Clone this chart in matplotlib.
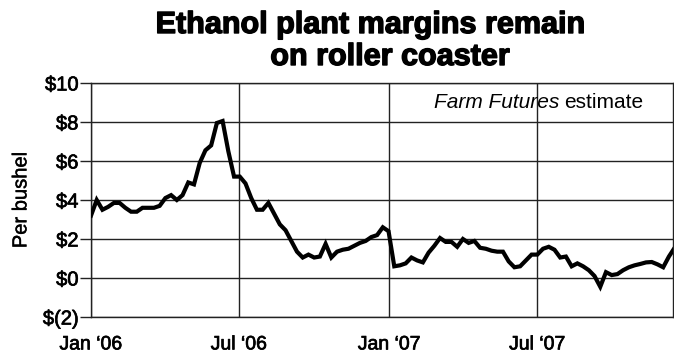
import matplotlib
matplotlib.use("Agg")
import matplotlib.pyplot as plt
import matplotlib.patheffects as pe
import pandas as pd
import numpy as np

# ---- data (weekly) ----
start_date = "2006-01-01"
margins = [
    3.2, 4.0, 3.5, 3.65, 3.85, 3.85, 3.6, 3.4, 3.4, 3.6,
    3.6, 3.6, 3.7, 4.1, 4.25, 4.0, 4.25, 4.9, 4.8, 5.9,
    6.55, 6.8, 7.95, 8.05, 6.5, 5.2, 5.2, 4.85, 4.1, 3.5,
    3.5, 3.85, 3.3, 2.75, 2.45, 1.9, 1.35, 1.05, 1.2, 1.05,
    1.1, 1.75, 1.05, 1.35, 1.45, 1.5, 1.65, 1.8, 1.9, 2.1,
    2.2, 2.6, 2.4, 0.6, 0.65, 0.75, 1.05, 0.9, 0.8, 1.3,
    1.65, 2.05, 1.85, 1.85, 1.6, 2.0, 1.8, 1.9, 1.55, 1.5,
    1.4, 1.35, 1.35, 0.85, 0.55, 0.6, 0.9, 1.2, 1.2, 1.5,
    1.6, 1.45, 1.05, 1.1, 0.6, 0.75, 0.6, 0.4, 0.1, -0.45,
    0.3, 0.15, 0.2, 0.4, 0.55, 0.65, 0.72, 0.8, 0.82, 0.7,
    0.55, 1.1, 1.55,
]
x_tick_dates = ["2006-01-01", "2006-07-01", "2007-01-01", "2007-07-01"]
x_tick_labels = ["Jan \u201806", "Jul \u201806", "Jan \u201807", "Jul \u201807"]
y_ticks = [-2, 0, 2, 4, 6, 8, 10]
y_tick_labels = ["$(2)", "$0", "$2", "$4", "$6", "$8", "$10"]
x_end = "2007-12-14"

dates = pd.date_range(start_date, periods=len(margins), freq="7D")

W, H = 674, 358
fig = plt.figure(figsize=(W / 100, H / 100), dpi=100)
fig.patch.set_facecolor("white")

left, right, top, bottom = 91, 673, 83, 317
ax = fig.add_axes([left / W, 1 - bottom / H, (right - left) / W, (bottom - top) / H])

ax.plot(dates, margins, color="black", lw=3.0, solid_joinstyle="miter", zorder=3)

ax.set_xlim(pd.Timestamp(start_date), pd.Timestamp(x_end))
ax.set_ylim(-2, 10)

thin = [pe.withStroke(linewidth=0.5, foreground="black")]
heavy = [pe.withStroke(linewidth=1.0, foreground="black")]

ax.set_yticks(y_ticks)
ax.set_yticklabels(y_tick_labels, fontsize=14.5, family="Liberation Sans")
ax.set_xticks([pd.Timestamp(d) for d in x_tick_dates])
ax.set_xticklabels(x_tick_labels, fontsize=14, family="Liberation Sans")
for lab in ax.get_xticklabels() + ax.get_yticklabels():
    lab.set_path_effects(thin)

ax.tick_params(axis="y", length=8, width=1, color="#222222", pad=1)
ax.tick_params(axis="x", length=0, pad=14)

ax.grid(True, color="#222222", lw=1)
for s in ax.spines.values():
    s.set_color("#222222")
    s.set_linewidth(1)

ax.set_ylabel("Per bushel", fontsize=14.5, family="Liberation Sans", labelpad=9,
              path_effects=[pe.withStroke(linewidth=0.3, foreground="black")])

fig.text(370 / W, 1 - 25 / H, "Ethanol plant margins remain", ha="center", va="center",
         fontsize=22, family="Liberation Sans", weight="bold", path_effects=heavy)
fig.text(390 / W, 1 - 57 / H, "on roller coaster", ha="center", va="center",
         fontsize=22, family="Liberation Sans", weight="bold", path_effects=heavy)

# annotation: italic "Farm Futures" + regular "estimate"
t2 = fig.text(643 / W, 1 - 103 / H, "estimate", ha="right", va="center",
              fontsize=15, family="Liberation Sans")
fig.canvas.draw()
bb = t2.get_window_extent(fig.canvas.get_renderer())
fig.text((bb.x0 - 4) / W, 1 - 103 / H, "Farm Futures", ha="right", va="center",
         fontsize=15, family="Liberation Sans", style="italic")

fig.savefig("out.png", dpi=100, facecolor="white")
